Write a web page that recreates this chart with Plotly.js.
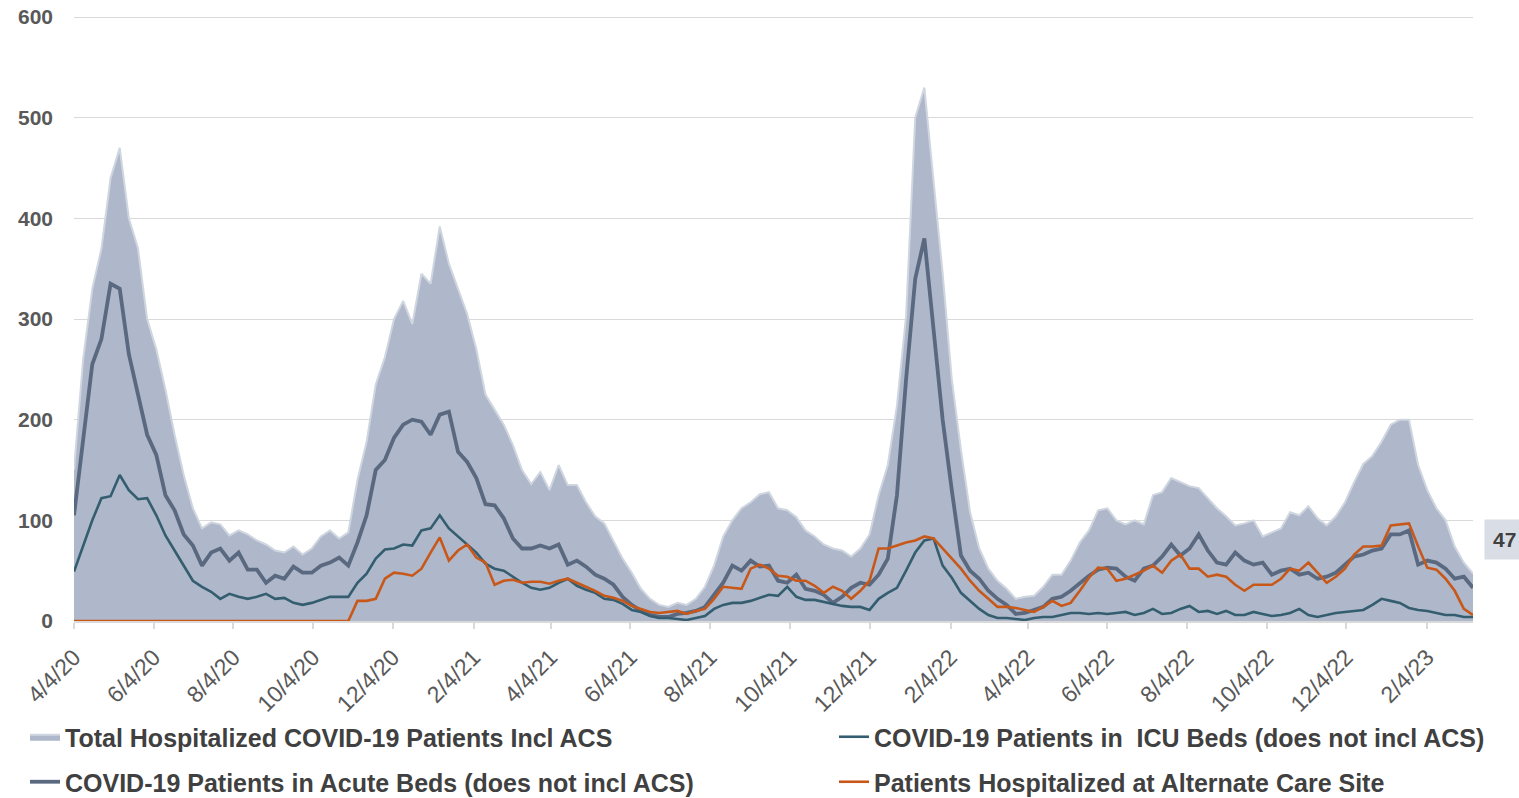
<!DOCTYPE html>
<html><head><meta charset="utf-8">
<script src="https://cdn.plot.ly/plotly-3.0.1.min.js"></script>
<style>html,body{margin:0;padding:0;background:#fff;} #chart{width:1519px;height:798px;}</style>
</head><body><div id="chart"></div>
<script>
// Weekly readings starting 4/4/2020
const startDate = [2020, 3, 4];   // year, month index, day
const stepDays = 7;

const seriesNames = [
  'Total Hospitalized COVID-19 Patients Incl ACS',
  'COVID-19 Patients in  ICU Beds (does not incl ACS)',
  'COVID-19 Patients in Acute Beds (does not incl ACS)',
  'Patients Hospitalized at Alternate Care Site'
];

const totalHosp = [
  150, 260, 330, 370, 440, 470, 400, 370, 300, 270, 230, 185, 145, 112, 92, 98, 96, 85, 90, 86, 80, 76, 70, 68, 74, 66,
  72, 84, 90, 82, 88, 140, 178, 235, 262, 300, 318, 295, 345, 335, 392, 355, 330, 305, 270, 225, 210, 195, 175, 150, 136, 148,
  130, 155, 135, 135, 118, 104, 97, 80, 62, 48, 32, 22, 16, 14, 18, 16, 22, 34, 55, 84, 100, 112, 118, 126, 128,
  112, 110, 103, 90, 84, 76, 72, 70, 64, 72, 86, 125, 155, 214, 303, 500, 530, 440, 345, 240, 170, 108, 72, 52, 40, 32,
  22, 24, 25, 34, 46, 46, 60, 78, 90, 110, 112, 100, 96, 100, 96, 125, 128, 142, 138, 134, 132, 122, 112, 104, 95, 97,
  100, 84, 88, 92, 108, 105, 114, 102, 95, 104, 118, 138, 156, 164, 178, 195, 200, 200, 155, 130, 112, 100, 74, 58, 47
];

const icuBeds = [
  49, 75, 100, 122, 124, 145, 130, 121, 122, 105, 85, 70, 55, 40, 34, 29, 22, 27, 24, 22, 24, 27, 22, 23, 18, 16,
  18, 21, 24, 24, 24, 38, 47, 62, 71, 72, 76, 75, 90, 92, 105, 92, 84, 76, 68, 57, 52, 50, 44, 38, 33, 31,
  33, 38, 42, 35, 31, 28, 22, 21, 17, 11, 9, 5, 3, 3, 2, 1, 3, 5, 12, 16, 18, 18, 20, 23, 26,
  25, 34, 24, 21, 21, 19, 17, 15, 14, 14, 11, 22, 28, 33, 50, 68, 80, 82, 55, 43, 28, 20, 12, 6, 3, 3,
  2, 1, 3, 4, 4, 6, 8, 8, 7, 8, 7, 8, 9, 6, 8, 12, 7, 8, 12, 15, 9, 10, 7, 10, 6, 6,
  9, 7, 5, 6, 8, 12, 6, 4, 6, 8, 9, 10, 11, 16, 22, 20, 18, 13, 11, 10, 8, 6, 6, 4, 4
];

const acuteBeds = [
  105, 180, 255, 280, 335, 330, 265, 225, 185, 165, 125, 110, 86, 75, 55, 68, 72, 60, 68, 51, 51, 38, 45, 42, 54, 48,
  48, 55, 58, 63, 55, 78, 105, 150, 160, 182, 195, 200, 198, 185, 205, 208, 168, 158, 142, 116, 115, 102, 82, 72, 72, 75,
  72, 76, 56, 60, 54, 46, 42, 36, 24, 16, 10, 6, 4, 4, 7, 8, 10, 14, 26, 38, 55, 50, 60, 54, 55,
  40, 38, 46, 32, 30, 26, 18, 24, 33, 38, 36, 46, 62, 125, 240, 340, 380, 290, 200, 130, 65, 50, 42, 30, 22, 16,
  7, 8, 11, 14, 22, 24, 30, 38, 45, 51, 53, 52, 44, 40, 52, 55, 64, 76, 65, 72, 86, 70, 58, 56, 68, 60,
  56, 58, 46, 50, 52, 46, 48, 42, 44, 48, 56, 64, 66, 70, 72, 86, 86, 90, 56, 60, 58, 52, 42, 44, 33
];

const altCareSite = [
  0, 0, 0, 0, 0, 0, 0, 0, 0, 0, 0, 0, 0, 0, 0, 0, 0, 0, 0, 0, 0, 0, 0, 0, 0, 0,
  0, 0, 0, 0, 0, 20, 20, 22, 42, 48, 47, 45, 52, 68, 83, 60, 70, 76, 63, 58, 36, 40, 41, 38, 39, 39,
  37, 40, 42, 38, 34, 30, 25, 23, 20, 15, 12, 9, 8, 9, 10, 7, 10, 12, 22, 34, 33, 32, 52, 56, 52,
  45, 44, 40, 40, 35, 28, 34, 30, 22, 30, 40, 72, 72, 75, 78, 80, 84, 82, 72, 62, 52, 40, 30, 22, 14, 14,
  13, 11, 9, 14, 20, 15, 18, 30, 43, 53, 52, 40, 42, 46, 50, 55, 48, 60, 66, 52, 52, 44, 46, 44, 36, 30,
  36, 36, 36, 42, 52, 50, 58, 48, 38, 44, 52, 66, 74, 74, 75, 95, 96, 97, 74, 53, 51, 42, 30, 12, 6
];

const tickLabels = ['4/4/20','6/4/20','8/4/20','10/4/20','12/4/20','2/4/21','4/4/21','6/4/21','8/4/21',
  '10/4/21','12/4/21','2/4/22','4/4/22','6/4/22','8/4/22','10/4/22','12/4/22','2/4/23'];
const yTicks = [0, 100, 200, 300, 400, 500, 600];

// ---- build ----
const dayMs = 86400000;
const t0 = Date.UTC(startDate[0], startDate[1], startDate[2]);
const dates = totalHosp.map((_, i) => new Date(t0 + i * stepDays * dayMs).toISOString().slice(0, 10));
const tickVals = tickLabels.map(s => {
  const [m, d, y] = s.split('/').map(Number);
  return new Date(Date.UTC(2000 + y, m - 1, d)).toISOString().slice(0, 10);
});

const FONT = 'Liberation Sans, Arial, sans-serif';
const legFont = {family: FONT, size: 25, color: '#404040', weight: 'bold'};

const traces = [
  {x: dates, y: totalHosp, name: seriesNames[0], type: 'scatter', mode: 'lines',
   fill: 'tozeroy', fillcolor: '#aeb8ca', line: {color: '#d0d6e0', width: 2},
   legend: 'legend', hoverinfo: 'x+y'},
  {x: dates, y: acuteBeds, name: seriesNames[2], type: 'scatter', mode: 'lines',
   line: {color: '#5a6980', width: 3.8}, legend: 'legend3'},
  {x: dates, y: icuBeds, name: seriesNames[1], type: 'scatter', mode: 'lines',
   line: {color: '#345d70', width: 2.6}, legend: 'legend2'},
  {x: dates, y: altCareSite, name: seriesNames[3], type: 'scatter', mode: 'lines',
   line: {color: '#c8581a', width: 2.6}, legend: 'legend4'}
];

const W = 1519, H = 798;
const plotL = 74, plotR = 1473, plotT = 14, plotB = 621;
const mkLeg = (px, py) => ({x: px / W, y: 1 - py / H, xref: 'container', yref: 'container',
  xanchor: 'left', yanchor: 'middle',
  orientation: 'h', font: legFont, bgcolor: 'rgba(0,0,0,0)', borderwidth: 0});

const last = totalHosp.length - 1;
const layout = {
  width: W, height: H,
  margin: {l: plotL, r: W - plotR, t: plotT, b: H - plotB, pad: 0},
  paper_bgcolor: '#ffffff', plot_bgcolor: '#ffffff',
  showlegend: true,
  xaxis: {
    type: 'date', range: [dates[0], dates[last]], automargin: false,
    tickmode: 'array', tickvals: tickVals, ticktext: tickLabels, tickangle: -45,
    tickfont: {family: FONT, size: 23, color: '#595959'},
    showgrid: false, zeroline: false,
    showline: true, linecolor: '#d9d9d9', linewidth: 1.5,
    ticks: 'outside', ticklen: 6, tickcolor: '#d9d9d9', tickwidth: 1.5,
    ticklabelstandoff: 6
  },
  yaxis: {
    range: [0, 603], automargin: false, tickmode: 'array', tickvals: yTicks,
    tickfont: {family: FONT, size: 21, color: '#595959', weight: 'bold'},
    showgrid: true, gridcolor: '#d9d9d9', gridwidth: 1.4,
    zeroline: false, showline: false, ticks: '', ticklabelstandoff: 20
  },
  legend: mkLeg(25, 737),
  legend2: mkLeg(834, 737),
  legend3: mkLeg(25, 782),
  legend4: mkLeg(834, 782),
  annotations: [{
    x: dates[last], y: totalHosp[last], xref: 'x', yref: 'y',
    text: String(totalHosp[last]), showarrow: false,
    xanchor: 'left', yanchor: 'middle', xshift: 11, yshift: 34,
    bgcolor: '#d9dee6', borderpad: 8,
    font: {family: FONT, size: 21, color: '#404040', weight: 'bold'}
  }]
};

Plotly.newPlot('chart', traces, layout, {displayModeBar: false, responsive: false});
</script>
</body></html>
